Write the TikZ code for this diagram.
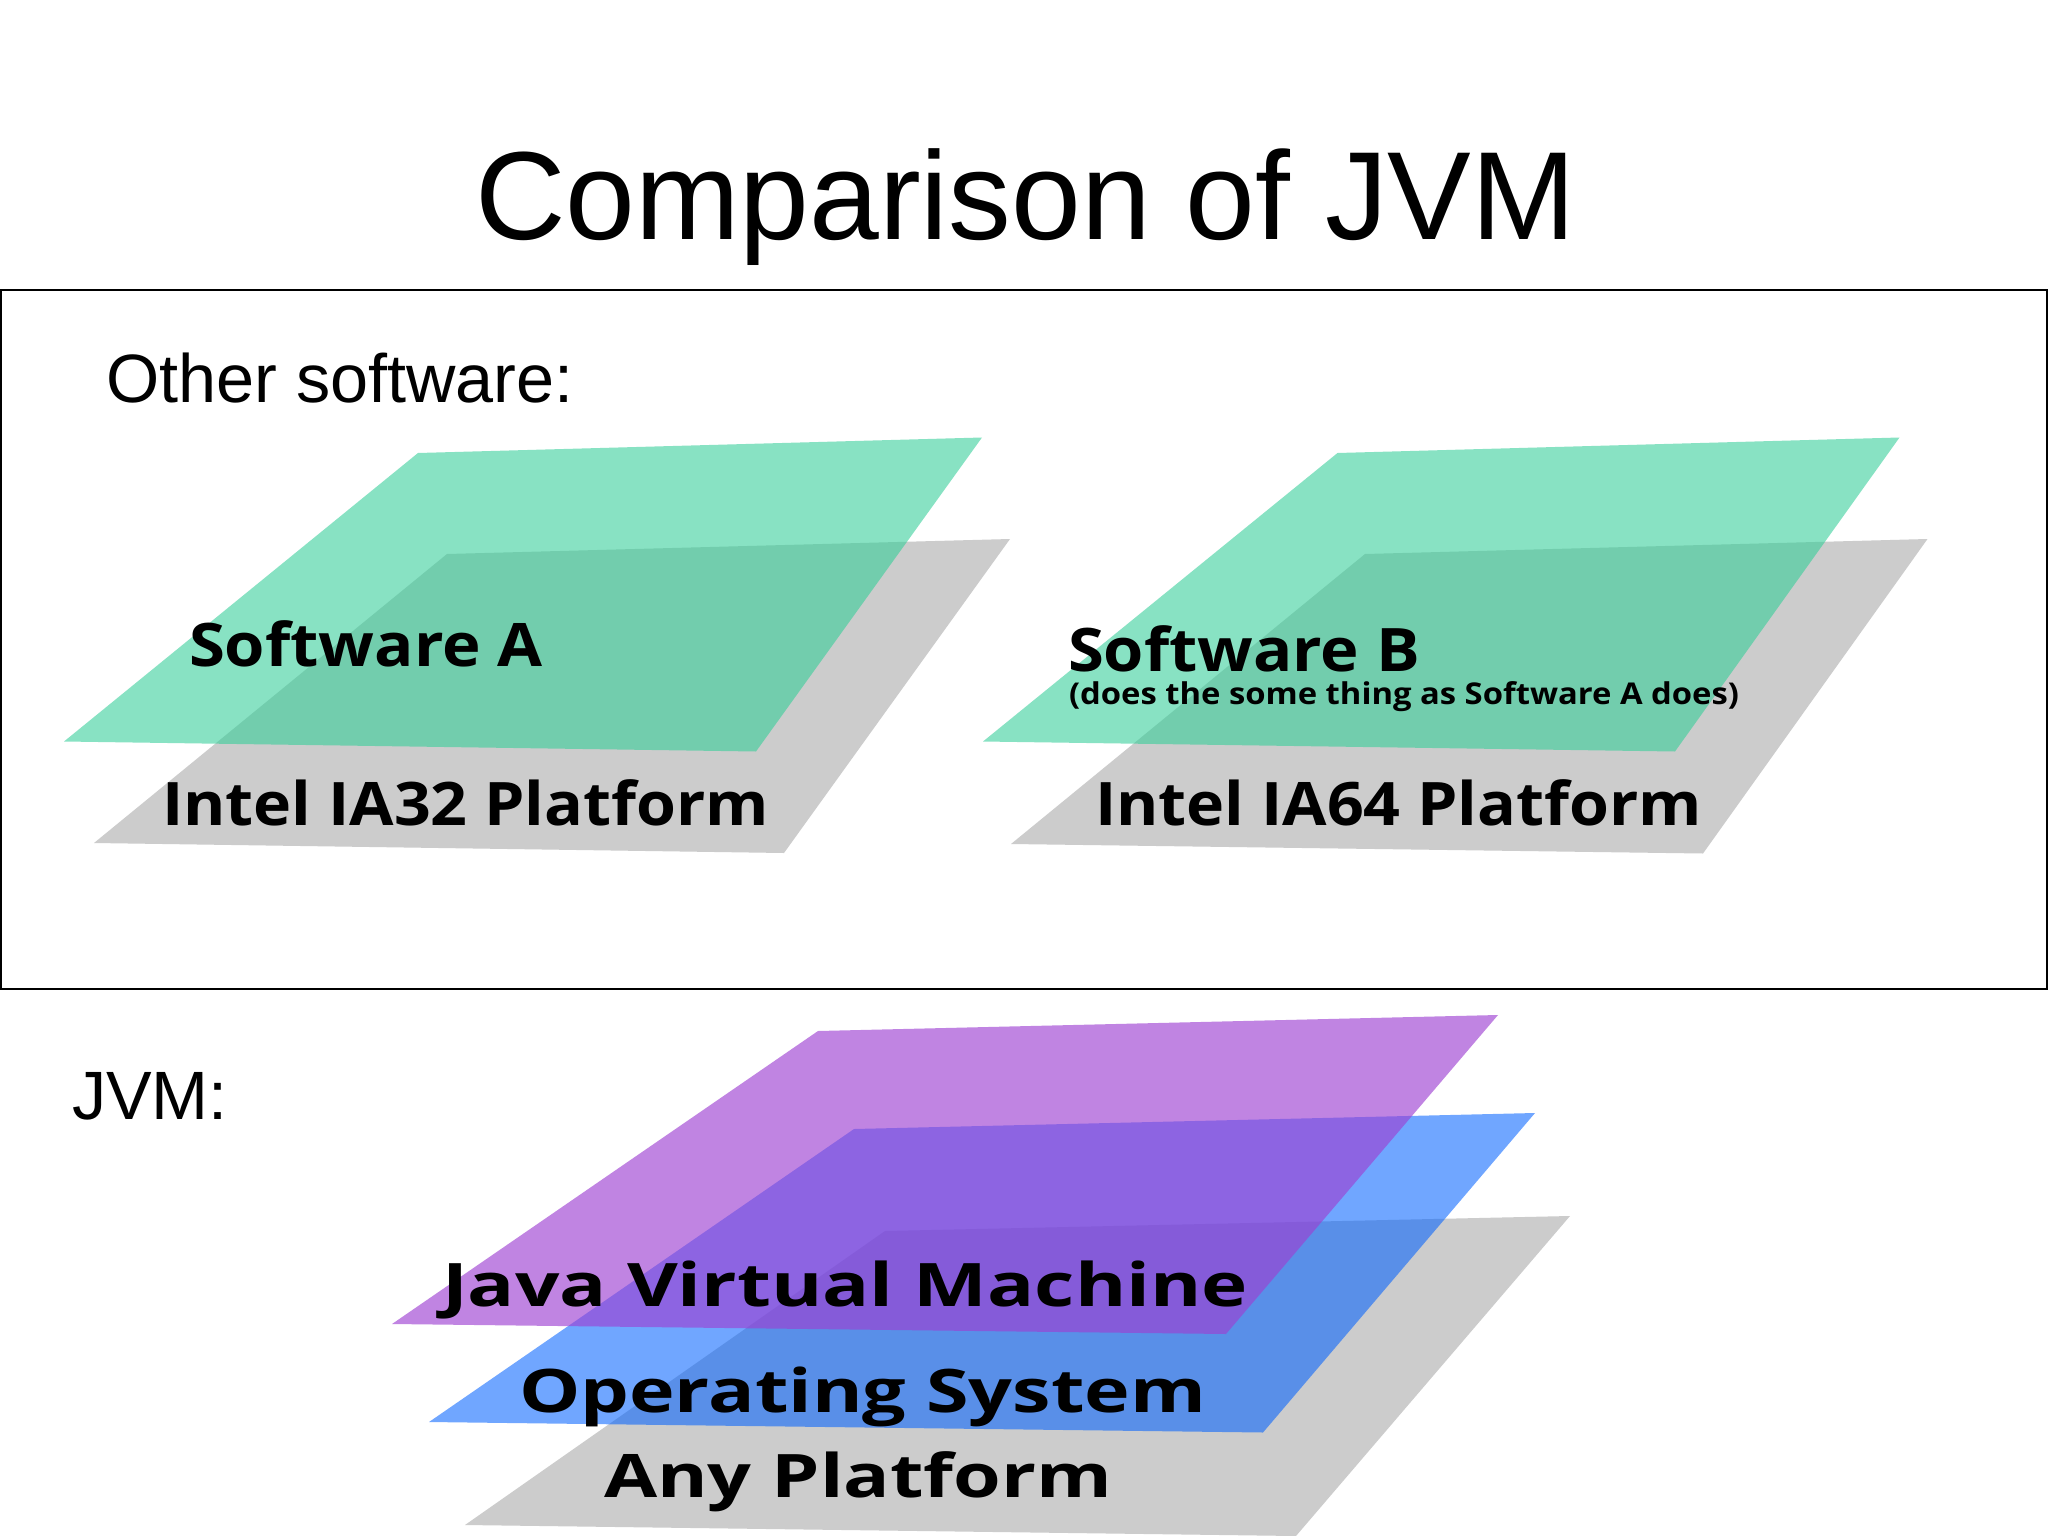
\documentclass[tikz,border=0pt]{standalone}
\usepackage{fontspec}
\usepackage{graphicx}
\setmainfont[Kerning=Off]{Liberation Sans}
\newfontfamily\lblfont{Open Sans}
\definecolor{inkc}{HTML}{000000}
\definecolor{greenp}{HTML}{32CE98}
\definecolor{grayp}{HTML}{CCCCCC}
\definecolor{bluep}{HTML}{0061FF}
\definecolor{purplep}{HTML}{9E3FD2}
\tikzset{
  plainlbl/.style={anchor=base west,inner sep=0pt,outer sep=0pt,text=inkc},
  planelbl/.style={anchor=base west,inner sep=0pt,outer sep=0pt,text=inkc},
  graysheet/.style={fill=grayp},
  greensheet/.style={fill=greenp,fill opacity=.58},
  bluesheet/.style={fill=bluep,fill opacity=.56},
  purplesheet/.style={fill=purplep,fill opacity=.64},
  framebox/.style={draw=black,line width=1.6pt}
}
% #1 font size, #2 target width, #3 text
\newcommand{\lblfit}[3]{\resizebox{#2pt}{\height}{\lblfont\bfseries\fontsize{#1}{#1}\selectfont #3}}
\begin{document}
\begin{tikzpicture}[x=1pt,y=-1pt]
\useasboundingbox (0,0) rectangle (2048,1536);
\clip (0,0) rectangle (2048,1536);
\fill[white] (0,0) rectangle (2048,1536);
\node[plainlbl] (title) at (475,239) {\fontsize{125.4}{130}\selectfont Comparison of JVM};
\draw[framebox] (0.8,290) rectangle (2047.2,989);
\node[plainlbl] (other) at (106,402.5) {\fontsize{68.4}{72}\selectfont Other software:};
\node[plainlbl] (jvmhead) at (72,1119) {\fontsize{68.4}{72}\selectfont JVM:};
% Software A stack
\fill[graysheet] (447,554) -- (1010,539) -- (784,853) -- (94,843) -- cycle;
\fill[greensheet] (418,453) -- (982,437.5) -- (756,751.5) -- (64,741.5) -- cycle;
% Software B stack
\fill[graysheet] (1365,554) -- (1927.5,539) -- (1703,853.5) -- (1011,844) -- cycle;
\fill[greensheet] (1337.5,453) -- (1899.5,437.5) -- (1675,751.5) -- (983,741.5) -- cycle;
% JVM stack
\fill[graysheet] (885,1231) -- (1570,1216) -- (1296,1536) -- (465,1525) -- cycle;
\fill[bluesheet] (854,1129) -- (1535,1113) -- (1263,1432.5) -- (429,1422) -- cycle;
\fill[purplesheet] (818,1031) -- (1498,1015) -- (1226,1334) -- (392,1324) -- cycle;
% labels
\node[planelbl] (swa) at (189,666) {\lblfit{60}{354}{Software A}};
\node[planelbl] (ia32) at (162,825) {\lblfit{60}{607}{Intel IA32 Platform}};
\node[planelbl] (swb) at (1068,671) {\lblfit{60}{352}{Software B}};
\node[planelbl] (swbnote) at (1069,704) {\lblfit{30}{670}{(does the some thing as Software A does)}};
\node[planelbl] (ia64) at (1095,825) {\lblfit{60}{607}{Intel IA64 Platform}};
\node[planelbl] (jvmlbl) at (442,1306) {\lblfit{60}{806}{Java Virtual Machine}};
\node[planelbl] (oslbl) at (519,1412) {\lblfit{60}{687}{Operating System}};
\node[planelbl] (anylbl) at (604,1497) {\lblfit{60}{508}{Any Platform}};
\end{tikzpicture}
\end{document}
